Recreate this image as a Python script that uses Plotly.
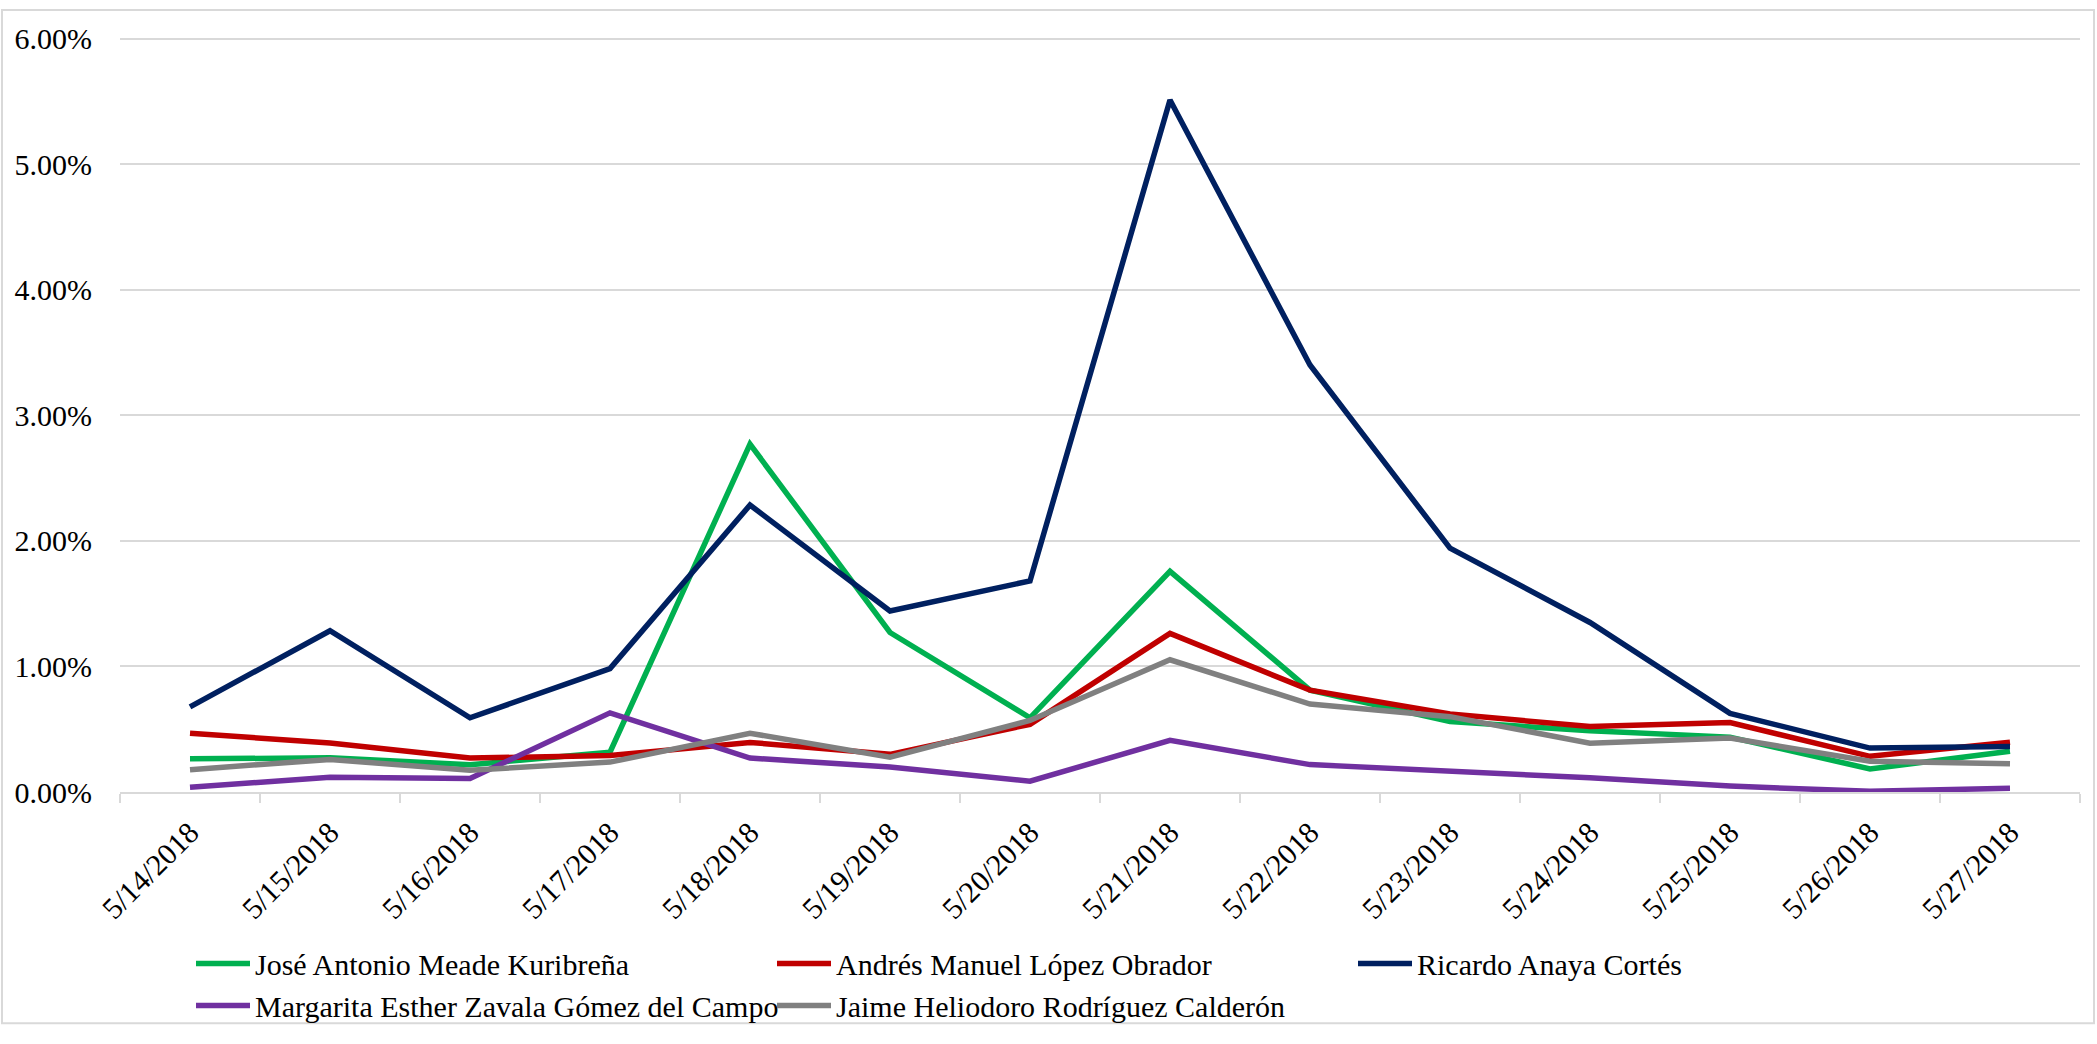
import plotly.graph_objects as go

dates = ["5/14/2018", "5/15/2018", "5/16/2018", "5/17/2018", "5/18/2018", "5/19/2018",
         "5/20/2018", "5/21/2018", "5/22/2018", "5/23/2018", "5/24/2018", "5/25/2018",
         "5/26/2018", "5/27/2018"]

y_ticks = [0, 1, 2, 3, 4, 5, 6]
y_tick_labels = ["0.00%", "1.00%", "2.00%", "3.00%", "4.00%", "5.00%", "6.00%"]

jose = [0.264, 0.272, 0.217, 0.317, 2.77, 1.27, 0.591, 1.757, 0.811, 0.561, 0.487, 0.437, 0.184, 0.324]
andres = [0.468, 0.390, 0.270, 0.290, 0.395, 0.300, 0.539, 1.263, 0.811, 0.621, 0.521, 0.553, 0.284, 0.397]
ricardo = [0.678, 1.284, 0.591, 0.983, 2.285, 1.441, 1.681, 5.51, 3.40, 1.942, 1.350, 0.626, 0.350, 0.363]
margarita = [0.037, 0.118, 0.107, 0.630, 0.270, 0.199, 0.086, 0.411, 0.218, 0.166, 0.113, 0.047, 0.005, 0.030]
jaime = [0.178, 0.259, 0.173, 0.238, 0.468, 0.278, 0.570, 1.053, 0.700, 0.600, 0.389, 0.430, 0.245, 0.224]

series = [
    ("José Antonio Meade Kuribreña", jose, "#00B050"),
    ("Andrés Manuel López Obrador", andres, "#C00000"),
    ("Ricardo Anaya Cortés", ricardo, "#002060"),
    ("Margarita Esther Zavala Gómez del Campo", margarita, "#7030A0"),
    ("Jaime Heliodoro Rodríguez Calderón", jaime, "#808080"),
]

FONT = "Liberation Serif, Times New Roman, serif"
W, H = 2097, 1044
YMAX = 6.02
plot_bottom = 805
ph = (plot_bottom - 39) * YMAX / 6.0
L, R = 120, 17
T = plot_bottom - ph
B = H - plot_bottom
pw = W - L - R

fig = go.Figure()
for name, vals, color in series:
    fig.add_trace(go.Scatter(x=dates, y=vals, mode="lines", name=name,
                             line=dict(color=color, width=5.5)))

fig.update_layout(
    width=W, height=H,
    margin=dict(l=L, r=R, t=T, b=B, pad=0),
    paper_bgcolor="white", plot_bgcolor="white",
    font=dict(family=FONT, size=30, color="black"),
    showlegend=True,
    legend=dict(orientation="h", x=(191 - L) / pw, xanchor="left",
                y=-(953 - plot_bottom) / ph, yanchor="top",
                itemwidth=54, entrywidth=512, entrywidthmode="pixels",
                font=dict(family=FONT, size=30), bgcolor="rgba(0,0,0,0)",
                traceorder="normal"),
    xaxis=dict(type="category", range=[-0.5, 13.5], showgrid=False,
               showline=True, linecolor="#D9D9D9", linewidth=2,
               ticks="outside", tickson="boundaries", ticklen=9,
               tickcolor="#D9D9D9", tickwidth=2, tickangle=-45,
               ticklabelstandoff=9, tickfont=dict(family=FONT, size=30)),
    yaxis=dict(range=[0, YMAX], tickmode="array", tickvals=y_ticks, ticktext=y_tick_labels,
               showgrid=True, gridcolor="#D9D9D9", gridwidth=2,
               zeroline=False, showline=False, ticks="",
               ticklabelstandoff=27, tickfont=dict(family=FONT, size=30)),
    shapes=[dict(type="rect", xref="paper", yref="paper",
                 x0=(2 - L) / pw, x1=(W - 3 - L) / pw,
                 y0=-(H - 4 - plot_bottom) / ph, y1=1 + (T - 10) / ph,
                 line=dict(color="#D9D9D9", width=2), layer="below")],
)

fig.write_html("out.html", config={"displayModeBar": False},
               post_script="document.body.style.margin='0';document.body.style.padding='0';")
